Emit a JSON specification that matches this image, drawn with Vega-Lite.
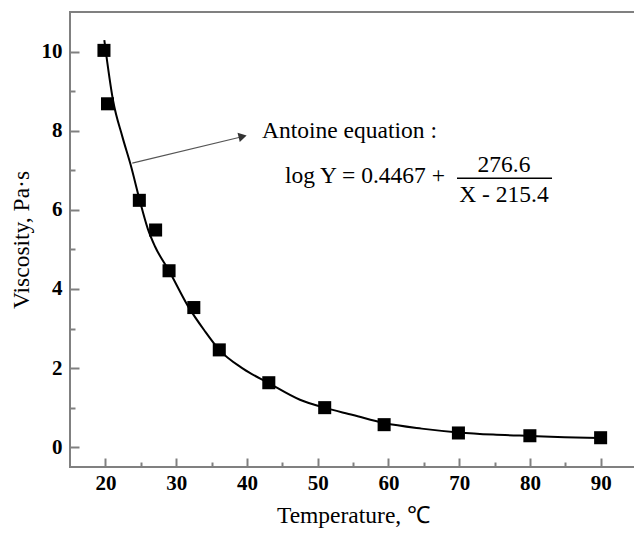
{
  "$schema": "https://vega.github.io/schema/vega-lite/v6.json",
  "width": 566,
  "height": 455,
  "autosize": {"type": "none"},
  "padding": {"left": 70, "top": 12, "right": 0, "bottom": 67},
  "background": "white",
  "config": {
    "view": {"stroke": "#808080", "strokeWidth": 2},
    "font": "Liberation Serif",
    "axis": {
      "grid": false,
      "domain": false,
      "tickColor": "#808080",
      "tickWidth": 2,
      "labelFont": "Liberation Serif",
      "labelFontWeight": "bold",
      "labelFontSize": 21,
      "labelColor": "black",
      "titleFont": "Liberation Serif",
      "titleFontWeight": "normal",
      "titleFontSize": 23.5,
      "titleColor": "black"
    }
  },
  "resolve": {"axis": {"x": "independent", "y": "independent"}},
  "datasets": {
    "measured": [
      {"T": 19.8, "V": 10.03},
      {"T": 20.3, "V": 8.68},
      {"T": 24.8, "V": 6.24},
      {"T": 27.1, "V": 5.49},
      {"T": 29.0, "V": 4.46},
      {"T": 32.5, "V": 3.53},
      {"T": 36.1, "V": 2.46},
      {"T": 43.1, "V": 1.63},
      {"T": 51.0, "V": 1.0},
      {"T": 59.4, "V": 0.57},
      {"T": 69.9, "V": 0.36},
      {"T": 80.0, "V": 0.29},
      {"T": 90.0, "V": 0.24}
    ],
    "fit": [
      {"T": 19.85, "V": 10.29},
      {"T": 21.1, "V": 8.75},
      {"T": 22.4, "V": 7.85},
      {"T": 23.6, "V": 7.12},
      {"T": 24.8, "V": 6.28},
      {"T": 26.0, "V": 5.52},
      {"T": 27.0, "V": 5.08},
      {"T": 29.0, "V": 4.46},
      {"T": 31.7, "V": 3.56},
      {"T": 34.0, "V": 2.95},
      {"T": 36.1, "V": 2.46},
      {"T": 39.5, "V": 1.98},
      {"T": 43.1, "V": 1.62},
      {"T": 47.5, "V": 1.2},
      {"T": 50.9, "V": 1.0},
      {"T": 55.0, "V": 0.815},
      {"T": 59.4, "V": 0.61},
      {"T": 64.7, "V": 0.47},
      {"T": 69.9, "V": 0.375},
      {"T": 74.8, "V": 0.32},
      {"T": 80.0, "V": 0.285},
      {"T": 84.9, "V": 0.255},
      {"T": 90.0, "V": 0.23}
    ],
    "arrow": [
      {"T": 23.8, "V": 7.18},
      {"T": 39.6, "V": 7.86}
    ],
    "arrowhead": [
      {"T": 39.4, "V": 7.855}
    ],
    "textLeft": [
      {"T": 42.14, "V": 7.82, "label": "Antoine equation :"},
      {"T": 45.39, "V": 6.68, "label": "log Y = 0.4467 +"}
    ],
    "textCenter": [
      {"T": 76.34, "V": 6.96, "label": "276.6"},
      {"T": 76.34, "V": 6.2, "label": "X - 215.4"}
    ],
    "fraction": [
      {"T": 69.7, "T2": 83.13, "V": 6.8}
    ]
  },
  "layer": [
    {
      "data": {"name": "fit"},
      "mark": {"type": "line", "color": "black", "strokeWidth": 2, "interpolate": "monotone"},
      "encoding": {
        "x": {
          "field": "T", "type": "quantitative",
          "scale": {"domain": [15, 95], "nice": false, "zero": false},
          "axis": {
            "orient": "bottom",
            "title": "Temperature, \u2103",
            "values": [20, 30, 40, 50, 60, 70, 80, 90],
            "tickSize": -9,
            "labelPadding": 14,
            "titlePadding": 10
          }
        },
        "y": {
          "field": "V", "type": "quantitative",
          "scale": {"domain": [-0.5, 11], "nice": false, "zero": false},
          "axis": {
            "orient": "left",
            "title": "Viscosity, Pa\u00b7s",
            "values": [0, 2, 4, 6, 8, 10],
            "tickSize": -9,
            "labelPadding": 17,
            "titlePadding": 8
          }
        }
      }
    },
    {
      "data": {"name": "measured"},
      "mark": {"type": "point", "shape": "square", "filled": true, "color": "black", "opacity": 1, "size": 170},
      "encoding": {
        "x": {
          "field": "T", "type": "quantitative",
          "axis": {"orient": "bottom", "title": null, "labels": false, "values": [25, 35, 45, 55, 65, 75, 85], "tickSize": -5}
        },
        "y": {
          "field": "V", "type": "quantitative",
          "axis": {"orient": "left", "title": null, "labels": false, "values": [1, 3, 5, 7, 9], "tickSize": -5}
        }
      }
    },
    {
      "data": {"name": "arrow"},
      "mark": {"type": "line", "color": "#555555", "strokeWidth": 1.2},
      "encoding": {
        "x": {"field": "T", "type": "quantitative", "axis": null},
        "y": {"field": "V", "type": "quantitative", "axis": null}
      }
    },
    {
      "data": {"name": "arrowhead"},
      "mark": {"type": "point", "shape": "triangle-right", "filled": true, "color": "#333333", "opacity": 1, "size": 90, "angle": -14},
      "encoding": {
        "x": {"field": "T", "type": "quantitative", "axis": null},
        "y": {"field": "V", "type": "quantitative", "axis": null}
      }
    },
    {
      "data": {"name": "textLeft"},
      "mark": {"type": "text", "align": "left", "baseline": "alphabetic", "font": "Liberation Serif", "fontSize": 23.5, "color": "black"},
      "encoding": {
        "x": {"field": "T", "type": "quantitative", "axis": null},
        "y": {"field": "V", "type": "quantitative", "axis": null},
        "text": {"field": "label"}
      }
    },
    {
      "data": {"name": "textCenter"},
      "mark": {"type": "text", "align": "center", "baseline": "alphabetic", "font": "Liberation Serif", "fontSize": 23.5, "color": "black"},
      "encoding": {
        "x": {"field": "T", "type": "quantitative", "axis": null},
        "y": {"field": "V", "type": "quantitative", "axis": null},
        "text": {"field": "label"}
      }
    },
    {
      "data": {"name": "fraction"},
      "mark": {"type": "rule", "color": "black", "strokeWidth": 1.5},
      "encoding": {
        "x": {"field": "T", "type": "quantitative", "axis": null},
        "x2": {"field": "T2"},
        "y": {"field": "V", "type": "quantitative", "axis": null}
      }
    }
  ]
}
